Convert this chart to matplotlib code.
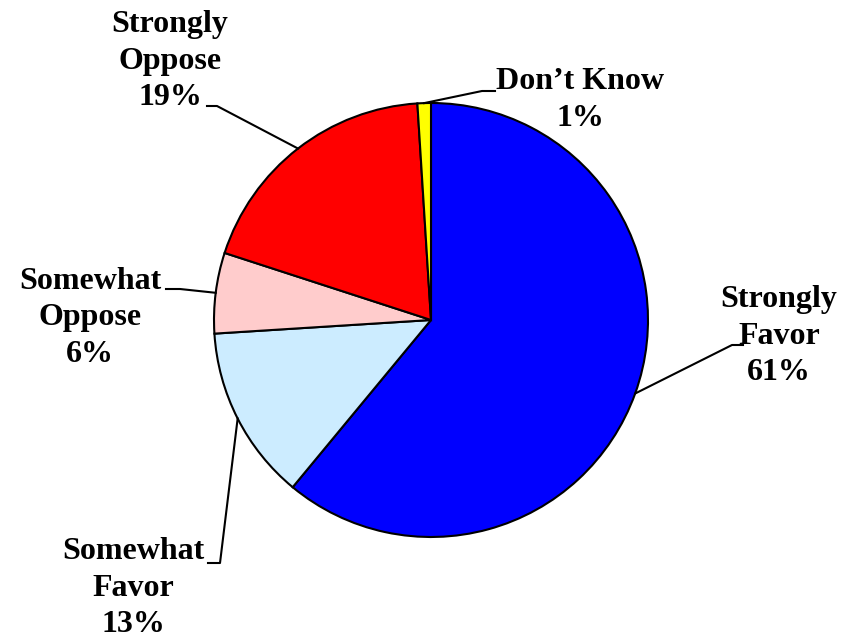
import numpy as np
import matplotlib
matplotlib.use("Agg")
import matplotlib.pyplot as plt

# data
labels = ["Strongly\nFavor", "Somewhat\nFavor", "Somewhat\nOppose", "Strongly\nOppose", "Don\u2019t Know"]
values = [61, 13, 6, 19, 1]
colors = ["#0000FF", "#CCECFF", "#FFCCCC", "#FF0000", "#FFFF00"]

# layout (pixels in the 861x640 image)
W, H = 861, 640
CX, CY, R = 431, 320, 217
# text centre, elbow of leader, end of leader
label_pos = [(779, 336), (133, 588), (90, 318), (170, 61), (580, 100)]
elbows = [(732, 345), (220, 563), (180, 289), (217, 106), (482, 91)]
ends = [(743, 345), (208, 563), (166, 289), (207, 106), (495, 91)]


def to_data(px, py):
    return (px - CX) / R, (CY - py) / R


plt.rcParams["font.family"] = ["Liberation Serif", "DejaVu Serif"]
fig = plt.figure(figsize=(W / 100, H / 100), dpi=100)
ax = fig.add_axes([0, 0, 1, 1])

wedges, _ = ax.pie(values, colors=colors, startangle=90, counterclock=False,
                   radius=1, wedgeprops=dict(edgecolor="black", linewidth=1.5))
ax.set_aspect("auto")
ax.set_xlim(-CX / R, (W - CX) / R)
ax.set_ylim(-(H - CY) / R, CY / R)
ax.axis("off")

total = sum(values)
for w, lab, val, tp, el, en in zip(wedges, labels, values, label_pos, elbows, ends):
    mid = np.deg2rad((w.theta1 + w.theta2) / 2)
    p0 = (np.cos(mid), np.sin(mid))
    p1 = to_data(*el)
    p2 = to_data(*en)
    ax.plot([p0[0], p1[0], p2[0]], [p0[1], p1[1], p2[1]], color="black", lw=1.5)
    tx, ty = to_data(*tp)
    pct = round(val / total * 100)
    ax.text(tx, ty, "%s\n%d%%" % (lab, pct), ha="center", va="center",
            fontsize=23, fontweight="bold", linespacing=1.33)

fig.savefig("out.png", dpi=100, facecolor="white")
